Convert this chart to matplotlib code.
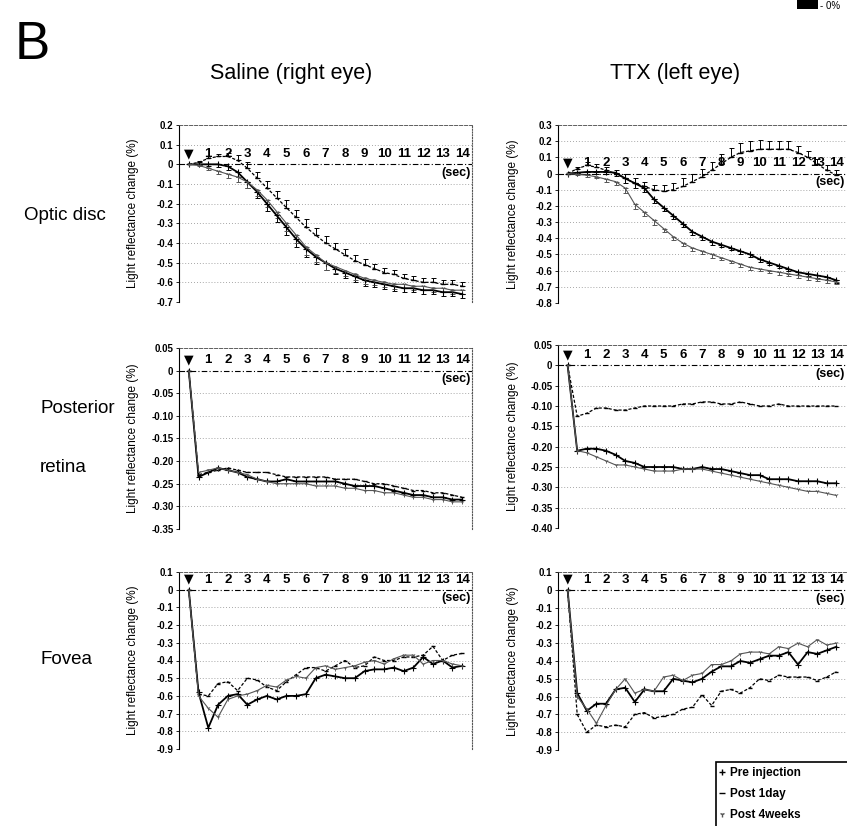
import numpy as np
import matplotlib
matplotlib.use('Agg')
import matplotlib.pyplot as plt
from matplotlib.lines import Line2D
from matplotlib.patches import Rectangle

plt.rcParams['font.family'] = ['Liberation Sans', 'DejaVu Sans']

# time axis (sec), one point every 0.5 s
t = [0, 0.5, 1, 1.5, 2, 2.5, 3, 3.5, 4, 4.5, 5, 5.5, 6, 6.5, 7,
     7.5, 8, 8.5, 9, 9.5, 10, 10.5, 11, 11.5, 12, 12.5, 13, 13.5, 14]
seconds = [1, 2, 3, 4, 5, 6, 7, 8, 9, 10, 11, 12, 13, 14]
series_names = ['Pre injection', 'Post 1day', 'Post 4weeks']

# ---- Optic disc ----
os_pre = [0, 0, 0, 0, -0.01, -0.04, -0.09, -0.14, -0.20, -0.26, -0.32, -0.38, -0.43, -0.47, -0.50,
          -0.53, -0.55, -0.57, -0.59, -0.60, -0.61, -0.62, -0.63, -0.63, -0.64, -0.64, -0.65, -0.65, -0.66]
os_d1 = [0, 0.01, 0.03, 0.04, 0.04, 0.02, -0.02, -0.07, -0.12, -0.17, -0.22, -0.27, -0.32, -0.36, -0.40,
         -0.43, -0.46, -0.49, -0.51, -0.53, -0.55, -0.56, -0.58, -0.59, -0.60, -0.60, -0.61, -0.61, -0.62]
os_w4 = [0, -0.005, -0.02, -0.035, -0.05, -0.065, -0.09, -0.13, -0.18, -0.24, -0.30, -0.36, -0.42, -0.46, -0.50,
         -0.52, -0.54, -0.56, -0.58, -0.59, -0.60, -0.61, -0.61, -0.62, -0.62, -0.63, -0.63, -0.64, -0.64]
os_err = [0, 0.005, 0.01, 0.015, 0.02, 0.025, 0.03, 0.03, 0.035, 0.035, 0.04, 0.04, 0.04, 0.035, 0.035,
          0.03, 0.03, 0.03, 0.03, 0.025, 0.025, 0.025, 0.02, 0.02, 0.02, 0.02, 0.02, 0.02, 0.02]

ot_pre = [0, 0.005, 0.01, 0.01, 0.01, 0.005, -0.03, -0.06, -0.09, -0.16, -0.21, -0.26, -0.31, -0.36, -0.39,
          -0.42, -0.44, -0.46, -0.48, -0.50, -0.53, -0.55, -0.57, -0.59, -0.61, -0.62, -0.63, -0.64, -0.66]
ot_d1 = [0, 0.03, 0.05, 0.04, 0.02, 0.0, -0.03, -0.06, -0.08, -0.10, -0.11, -0.10, -0.08, -0.05, -0.02,
         0.02, 0.06, 0.10, 0.13, 0.14, 0.15, 0.15, 0.15, 0.15, 0.13, 0.10, 0.06, 0.02, -0.01]
ot_w4 = [0, -0.005, -0.01, -0.02, -0.035, -0.05, -0.09, -0.19, -0.24, -0.29, -0.34, -0.39, -0.43, -0.46, -0.48,
         -0.50, -0.52, -0.54, -0.56, -0.58, -0.59, -0.60, -0.61, -0.62, -0.63, -0.64, -0.65, -0.66, -0.67]
ot_err = [0, 0.005, 0.01, 0.01, 0.015, 0.02, 0.03, 0.03, 0.025, 0.025, 0.02, 0.02, 0.02, 0.02, 0.02,
          0.02, 0.015, 0.015, 0.015, 0.015, 0.015, 0.015, 0.015, 0.015, 0.015, 0.015, 0.015, 0.015, 0.015]
ot_d1_err = [0, 0.01, 0.02, 0.02, 0.02, 0.02, 0.03, 0.03, 0.03, 0.03, 0.04, 0.04, 0.05, 0.05, 0.05,
             0.05, 0.06, 0.06, 0.06, 0.06, 0.06, 0.05, 0.05, 0.05, 0.04, 0.04, 0.03, 0.03, 0.03]

# ---- Posterior retina ----
ps_pre = [0, -0.235, -0.225, -0.215, -0.22, -0.225, -0.235, -0.24, -0.245, -0.245, -0.24, -0.245, -0.245, -0.245, -0.245,
          -0.245, -0.25, -0.255, -0.255, -0.255, -0.26, -0.265, -0.27, -0.275, -0.275, -0.28, -0.28, -0.285, -0.285]
ps_d1 = [0, -0.23, -0.225, -0.22, -0.215, -0.22, -0.225, -0.225, -0.225, -0.23, -0.235, -0.235, -0.235, -0.235, -0.235,
         -0.24, -0.24, -0.24, -0.245, -0.25, -0.25, -0.255, -0.26, -0.265, -0.265, -0.27, -0.27, -0.275, -0.28]
ps_w4 = [0, -0.225, -0.22, -0.215, -0.22, -0.225, -0.23, -0.24, -0.245, -0.25, -0.25, -0.25, -0.25, -0.255, -0.255,
         -0.255, -0.26, -0.26, -0.265, -0.265, -0.27, -0.27, -0.275, -0.28, -0.28, -0.285, -0.285, -0.29, -0.29]

pt_pre = [0, -0.21, -0.205, -0.205, -0.21, -0.22, -0.235, -0.24, -0.25, -0.25, -0.25, -0.25, -0.255, -0.255, -0.25,
          -0.255, -0.255, -0.26, -0.265, -0.27, -0.27, -0.28, -0.28, -0.28, -0.285, -0.285, -0.285, -0.29, -0.29]
pt_d1 = [0, -0.125, -0.118, -0.105, -0.105, -0.11, -0.11, -0.105, -0.10, -0.10, -0.10, -0.10, -0.095, -0.095, -0.09,
         -0.09, -0.095, -0.095, -0.09, -0.095, -0.10, -0.10, -0.095, -0.10, -0.10, -0.10, -0.10, -0.10, -0.10]
pt_w4 = [0, -0.21, -0.215, -0.225, -0.235, -0.245, -0.245, -0.25, -0.255, -0.26, -0.26, -0.26, -0.255, -0.255, -0.255,
         -0.26, -0.265, -0.27, -0.275, -0.28, -0.285, -0.29, -0.295, -0.30, -0.305, -0.31, -0.31, -0.315, -0.32]

# ---- Fovea ----
fs_pre = [0, -0.58, -0.78, -0.65, -0.60, -0.59, -0.65, -0.62, -0.60, -0.62, -0.60, -0.60, -0.59, -0.50, -0.48,
          -0.49, -0.50, -0.50, -0.46, -0.45, -0.45, -0.44, -0.46, -0.44, -0.38, -0.42, -0.40, -0.44, -0.43]
fs_d1 = [0, -0.59, -0.60, -0.53, -0.52, -0.57, -0.50, -0.51, -0.55, -0.57, -0.52, -0.48, -0.44, -0.44, -0.46,
         -0.43, -0.40, -0.44, -0.43, -0.38, -0.40, -0.40, -0.38, -0.38, -0.37, -0.32, -0.40, -0.37, -0.36]
fs_w4 = [0, -0.60, -0.67, -0.72, -0.62, -0.60, -0.59, -0.57, -0.54, -0.55, -0.51, -0.49, -0.50, -0.44, -0.43,
         -0.45, -0.44, -0.43, -0.41, -0.40, -0.42, -0.39, -0.37, -0.37, -0.42, -0.40, -0.40, -0.42, -0.43]

ft_pre = [0, -0.58, -0.68, -0.64, -0.64, -0.56, -0.55, -0.63, -0.56, -0.57, -0.57, -0.50, -0.51, -0.52, -0.50,
          -0.46, -0.43, -0.43, -0.40, -0.41, -0.39, -0.37, -0.37, -0.35, -0.42, -0.35, -0.36, -0.34, -0.32]
ft_d1 = [0, -0.70, -0.80, -0.76, -0.77, -0.76, -0.77, -0.70, -0.69, -0.72, -0.71, -0.70, -0.67, -0.66, -0.59,
         -0.65, -0.57, -0.56, -0.58, -0.55, -0.50, -0.51, -0.48, -0.49, -0.49, -0.49, -0.51, -0.49, -0.46]
ft_w4 = [0, -0.60, -0.67, -0.75, -0.65, -0.56, -0.50, -0.58, -0.56, -0.57, -0.49, -0.48, -0.51, -0.48, -0.47,
         -0.42, -0.42, -0.40, -0.36, -0.35, -0.35, -0.36, -0.32, -0.33, -0.30, -0.32, -0.28, -0.31, -0.30]

optic_ticks_s = [0.2, 0.1, 0, -0.1, -0.2, -0.3, -0.4, -0.5, -0.6, -0.7]
optic_ticks_t = [0.3, 0.2, 0.1, 0, -0.1, -0.2, -0.3, -0.4, -0.5, -0.6, -0.7, -0.8]
post_ticks_s = [0.05, 0, -0.05, -0.10, -0.15, -0.20, -0.25, -0.30, -0.35]
post_ticks_t = [0.05, 0, -0.05, -0.10, -0.15, -0.20, -0.25, -0.30, -0.35, -0.40]
fovea_ticks = [0.1, 0, -0.1, -0.2, -0.3, -0.4, -0.5, -0.6, -0.7, -0.8, -0.9]

styles = {
    'Pre injection': dict(color='black', lw=1.3, ls='-', marker='+', ms=4, mew=0.8),
    'Post 1day': dict(color='black', lw=0.9, ls=(0, (2.5, 1.5)), marker='_', ms=3, mew=1.0),
    'Post 4weeks': dict(color='#555555', lw=0.8, ls='-', marker='1', ms=3, mew=0.6),
}

W, H = 847, 826
fig = plt.figure(figsize=(W / 100, H / 100), dpi=100)


def px_axes(x0, y_top, x1, y_bot):
    return fig.add_axes([x0 / W, 1 - y_bot / H, (x1 - x0) / W, (y_bot - y_top) / H])


def draw_panel(ax, data, ticks, dec, errs=None, right_edge=True):
    for name, y in zip(series_names, data):
        st = styles[name]
        ax.plot(t, y, **st, zorder=3)
        if errs is not None and errs.get(name) is not None:
            e, up = errs[name]
            e = np.array(e)
            z = np.zeros_like(e)
            yerr = [z, e] if up else [e, z]
            ax.errorbar(t, y, yerr=yerr, fmt='none', ecolor=st['color'], elinewidth=0.7,
                        capsize=1.8, capthick=0.7, zorder=2)
    ax.set_xlim(-0.5, 14.5)
    ax.set_ylim(ticks[-1], ticks[0])
    ax.set_yticks(ticks)
    ax.set_yticklabels(['0' if v == 0 else f'{v:.{dec}f}' for v in ticks])
    ax.set_xticks([])
    ax.tick_params(axis='y', labelsize=7, length=2, width=0.6, pad=2, colors='black')
    for lab in ax.get_yticklabels():
        lab.set_fontweight('bold')
    for v in ticks[1:]:
        if v != 0:
            ax.axhline(v, color='#8a8a8a', lw=0.6, ls=(0, (1, 2.5)), zorder=1)
    ax.axhline(0, color='black', lw=0.8, ls=(0, (5, 2, 1, 2)), zorder=1)
    ax.spines['bottom'].set_visible(False)
    ax.spines['top'].set_linestyle((0, (4, 2)))
    ax.spines['top'].set_linewidth(0.6)
    ax.spines['top'].set_color('#444444')
    ax.spines['left'].set_linestyle((0, (1, 1)))
    ax.spines['left'].set_linewidth(0.8)
    ax.spines['right'].set_linestyle((0, (1, 1.5)))
    ax.spines['right'].set_linewidth(0.8)
    ax.spines['right'].set_color('#555555')
    ax.spines['right'].set_visible(right_edge)
    # time marks along the zero line
    ax.annotate('\u25BC', xy=(0, 0), xytext=(0, 3), textcoords='offset points',
                ha='center', va='bottom', fontsize=9, family=['DejaVu Sans'])
    for s in seconds:
        ax.annotate(str(s), xy=(s, 0), xytext=(0, 3), textcoords='offset points',
                    ha='center', va='bottom', fontsize=9.5, fontweight='bold')
    ax.annotate('(sec)', xy=(14.45, 0), xytext=(0, -2), textcoords='offset points',
                ha='right', va='top', fontsize=9, fontweight='bold')
    ax.set_ylabel('Light reflectance change (%)', fontsize=8.5)
    ax.yaxis.set_label_coords(-0.135, 0.5)


LX0, LX1 = 179, 472
RX0, RX1 = 558, 846

ax = px_axes(LX0, 125, LX1, 302)
draw_panel(ax, [os_pre, os_d1, os_w4], optic_ticks_s, 1,
           errs={'Pre injection': (os_err, False), 'Post 1day': (os_err, True), 'Post 4weeks': (os_err, False)})
ax = px_axes(RX0, 125, RX1, 303)
draw_panel(ax, [ot_pre, ot_d1, ot_w4], optic_ticks_t, 1,
           errs={'Pre injection': (ot_err, False), 'Post 1day': (ot_d1_err, True), 'Post 4weeks': (ot_err, False)},
           right_edge=False)

ax = px_axes(LX0, 348, LX1, 529)
draw_panel(ax, [ps_pre, ps_d1, ps_w4], post_ticks_s, 2)
ax = px_axes(RX0, 345, RX1, 528)
draw_panel(ax, [pt_pre, pt_d1, pt_w4], post_ticks_t, 2, right_edge=False)

ax = px_axes(LX0, 572, LX1, 749)
draw_panel(ax, [fs_pre, fs_d1, fs_w4], fovea_ticks, 1)
ax = px_axes(RX0, 572, RX1, 750)
draw_panel(ax, [ft_pre, ft_d1, ft_w4], fovea_ticks, 1, right_edge=False)

# headings
fig.text(15 / W, 1 - 45 / H, 'B', fontsize=38, ha='left', va='center')
fig.text(291 / W, 1 - 74 / H, 'Saline (right eye)', fontsize=15.5, ha='center', va='center')
fig.text(675 / W, 1 - 74 / H, 'TTX (left eye)', fontsize=15.5, ha='center', va='center')

fig.text(24 / W, 1 - 215 / H, 'Optic disc', fontsize=13.5, ha='left', va='center')
fig.text(40 / W, 1 - 408 / H, 'Posterior', fontsize=13.5, ha='left', va='center')
fig.text(40 / W, 1 - 468 / H, 'retina', fontsize=13.5, ha='left', va='center')
fig.text(40 / W, 1 - 660 / H, 'Fovea', fontsize=13.5, ha='left', va='center')

# cropped scale bar fragment in the upper right corner
fig.patches.append(Rectangle((797 / W, 1 - 9 / H), 21 / W, 9 / H, transform=fig.transFigure,
                             facecolor='black', edgecolor='none'))
fig.text(820 / W, 1 - 6 / H, '- 0%', fontsize=7, ha='left', va='center')

# legend box, running off the lower right corner as in the source figure
fig.patches.append(Rectangle((716 / W, -10 / H), 150 / W, (826 - 762 + 10) / H,
                             transform=fig.transFigure, facecolor='white',
                             edgecolor='black', lw=1.2))
handles = [Line2D([], [], color='black', marker='+', ls='none', ms=4),
           Line2D([], [], color='black', marker='_', ls='none', ms=4),
           Line2D([], [], color='#555555', marker='1', ls='none', ms=4)]
leg = fig.legend(handles, series_names, loc='upper left', bbox_to_anchor=(716 / W, 1 - 765 / H),
                 frameon=False, fontsize=8.5, handlelength=0.6, handletextpad=0.4,
                 labelspacing=0.75, borderpad=0.2, borderaxespad=0)
for txt in leg.get_texts():
    txt.set_fontweight('bold')

fig.savefig('out.png', dpi=100)
